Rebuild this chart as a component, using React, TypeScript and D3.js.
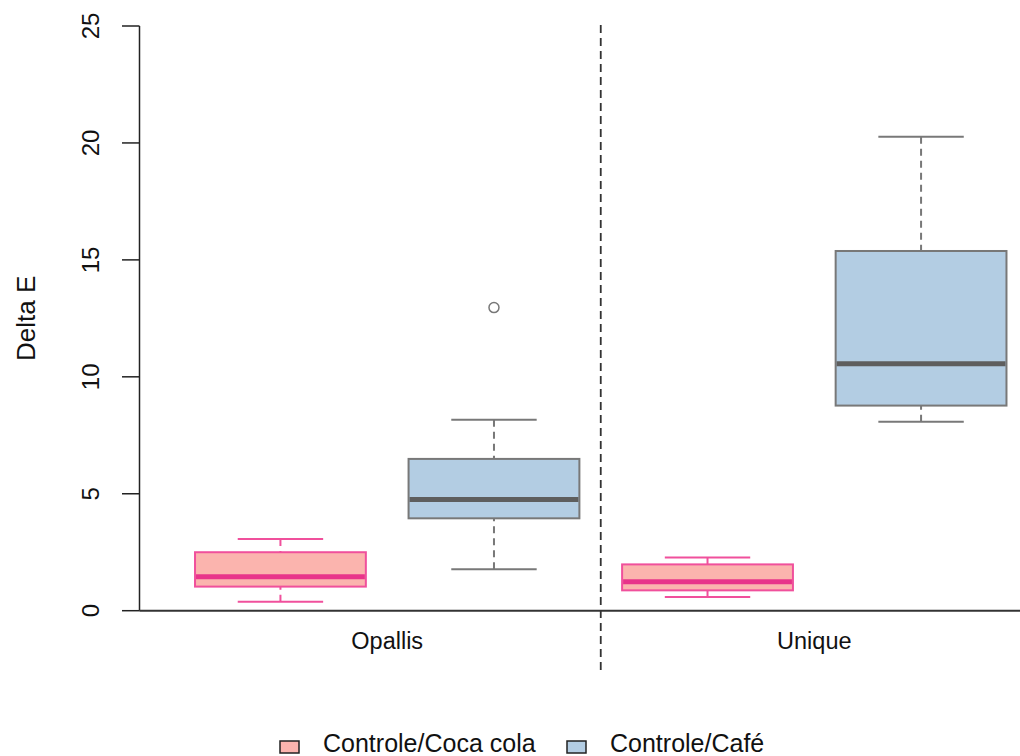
import * as d3 from "d3";
import { useEffect, useRef } from "react";

// groups / series
const groups = ["Opallis", "Unique"];
const series = ["Controle/Coca cola", "Controle/Café"];

// box stats, order: Opallis-Coca, Opallis-Café, Unique-Coca, Unique-Café
const whiskerLow = [0.38, 1.77, 0.59, 8.08];
const q1 = [1.03, 3.95, 0.87, 8.77];
const median = [1.45, 4.75, 1.24, 10.56];
const q3 = [2.5, 6.49, 1.98, 15.38];
const whiskerHigh = [3.07, 8.16, 2.28, 20.27];
const outliers = [[], [12.96], [], []];

const yTicks = [0, 5, 10, 15, 20, 25];

const fills = ["#FBB4AE", "#B3CDE3"];
const borders = ["#F0509C", "#787878"];
const medians = ["#E8348A", "#5E5E5E"];

const W = 1020, H = 756;
const FONT = "'Liberation Sans', Arial, sans-serif";

const App = () => {
  const ref: any = useRef();

  useEffect(() => {
    const svg = d3.select(ref.current);
    svg.selectAll("*").remove();

    const x = d3.scaleLinear().domain([0.34, 4.66]).range([139.5, 1062]);
    const y = d3.scaleLinear().domain([0, 25]).range([610.7, 26]);

    // y axis
    const ax = svg.append("g");
    ax.append("line")
      .attr("x1", 139.5).attr("x2", 139.5)
      .attr("y1", y(0)).attr("y2", y(25))
      .attr("stroke", "#222").attr("stroke-width", 1.5);
    ax.selectAll("line.tick").data(yTicks).join("line")
      .attr("class", "tick")
      .attr("x1", 122).attr("x2", 139.5)
      .attr("y1", d => y(d)).attr("y2", d => y(d))
      .attr("stroke", "#222").attr("stroke-width", 1.5);
    ax.selectAll("text").data(yTicks).join("text")
      .attr("transform", d => `translate(99,${y(d)}) rotate(-90)`)
      .attr("text-anchor", "middle")
      .attr("font-family", FONT).attr("font-size", 24).attr("fill", "#111")
      .text(d => d);

    svg.append("text")
      .attr("transform", `translate(35,${(y(0) + y(25)) / 2}) rotate(-90)`)
      .attr("text-anchor", "middle")
      .attr("font-family", FONT).attr("font-size", 26).attr("fill", "#111")
      .text("Delta E");

    // baseline at 0
    svg.append("line")
      .attr("x1", 139.5).attr("x2", W)
      .attr("y1", y(0)).attr("y2", y(0))
      .attr("stroke", "#333").attr("stroke-width", 2);

    // separator
    svg.append("line")
      .attr("x1", x(2.5)).attr("x2", x(2.5))
      .attr("y1", 25).attr("y2", 671)
      .attr("stroke", "#333").attr("stroke-width", 1.8)
      .attr("stroke-dasharray", "8,5");

    // category labels
    svg.selectAll("text.cat").data(groups).join("text")
      .attr("class", "cat")
      .attr("x", (d, i) => x(1.5 + i * 2)).attr("y", 649)
      .attr("text-anchor", "middle")
      .attr("font-family", FONT).attr("font-size", 23.5).attr("fill", "#111")
      .text(d => d);

    // boxes
    const boxes = d3.range(4).map(i => ({
      pos: i + 1, s: i % 2,
      lo: whiskerLow[i], q1: q1[i], med: median[i], q3: q3[i], hi: whiskerHigh[i], out: outliers[i]
    }));
    const bw = x(1.4) - x(1);
    const cw = x(1.2) - x(1);

    const g = svg.selectAll("g.box").data(boxes).join("g").attr("class", "box");

    // whiskers
    g.append("line")
      .attr("x1", d => x(d.pos)).attr("x2", d => x(d.pos))
      .attr("y1", d => y(d.hi)).attr("y2", d => y(d.q3))
      .attr("stroke", d => borders[d.s]).attr("stroke-width", 2)
      .attr("stroke-dasharray", "7,5");
    g.append("line")
      .attr("x1", d => x(d.pos)).attr("x2", d => x(d.pos))
      .attr("y1", d => y(d.lo)).attr("y2", d => y(d.q1))
      .attr("stroke", d => borders[d.s]).attr("stroke-width", 2)
      .attr("stroke-dasharray", "7,5");
    // caps
    g.selectAll("line.cap").data(d => [d.lo, d.hi].map(v => ({ v, d }))).join("line")
      .attr("class", "cap")
      .attr("x1", e => x(e.d.pos) - cw).attr("x2", e => x(e.d.pos) + cw)
      .attr("y1", e => y(e.v)).attr("y2", e => y(e.v))
      .attr("stroke", e => borders[e.d.s]).attr("stroke-width", 2);
    // box
    g.append("rect")
      .attr("x", d => x(d.pos) - bw).attr("width", 2 * bw)
      .attr("y", d => y(d.q3)).attr("height", d => y(d.q1) - y(d.q3))
      .attr("fill", d => fills[d.s])
      .attr("stroke", d => borders[d.s]).attr("stroke-width", 2);
    // median
    g.append("line")
      .attr("x1", d => x(d.pos) - bw + 1).attr("x2", d => x(d.pos) + bw - 1)
      .attr("y1", d => y(d.med)).attr("y2", d => y(d.med))
      .attr("stroke", d => medians[d.s]).attr("stroke-width", 5);
    // outliers
    g.selectAll("circle").data(d => d.out.map(v => ({ v, d }))).join("circle")
      .attr("cx", e => x(e.d.pos)).attr("cy", e => y(e.v)).attr("r", 5)
      .attr("fill", "none").attr("stroke", e => borders[e.d.s]).attr("stroke-width", 1.5);

    // legend
    const legX = [280, 567];
    const leg = svg.selectAll("g.leg").data(series).join("g").attr("class", "leg");
    leg.append("rect")
      .attr("x", (d, i) => legX[i]).attr("y", 741)
      .attr("width", 19).attr("height", 12)
      .attr("fill", (d, i) => fills[i])
      .attr("stroke", "#222").attr("stroke-width", 1.5);
    leg.append("text")
      .attr("x", (d, i) => legX[i] + 43).attr("y", 752)
      .attr("font-family", FONT).attr("font-size", 25).attr("fill", "#111")
      .text(d => d);
  }, []);

  return (
    <svg ref={ref} width={W} height={H}
      style={{ position: "absolute", left: 0, top: 0, background: "#fff" }} />
  );
};

export default App;
